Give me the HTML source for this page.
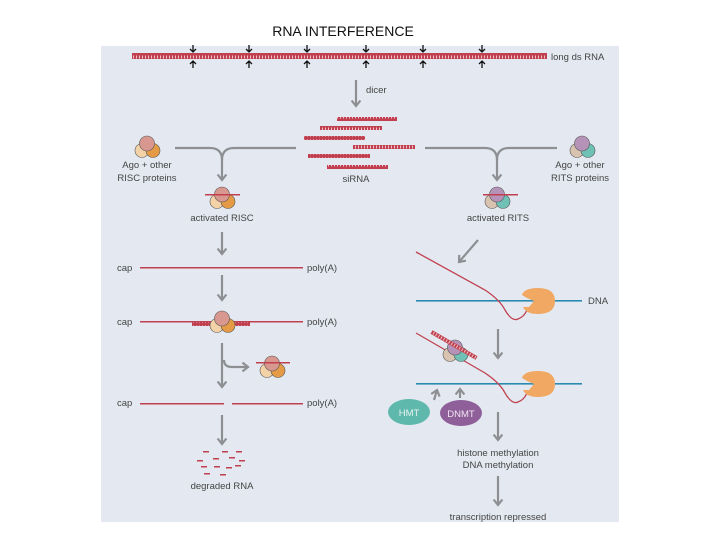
<!DOCTYPE html>
<html><head><meta charset="utf-8"><style>
html,body{margin:0;padding:0;background:#fff;width:720px;height:540px;overflow:hidden}
svg{display:block;font-family:"Liberation Sans",sans-serif}
</style></head><body>
<svg width="720" height="540" viewBox="0 0 720 540">
<defs>
<pattern id="ds" width="3" height="6" patternUnits="userSpaceOnUse"><rect width="3" height="6" fill="#c0404f"/><rect x="1" y="1.5" width="1" height="3" fill="#f0c4c8"/></pattern>
<marker id="ah" viewBox="0 0 10 10" refX="6" refY="5" markerWidth="5" markerHeight="5" orient="auto"><path d="M1,1 L6,5 L1,9" fill="none" stroke="#8d8f93" stroke-width="2"/></marker>
<g id="clL"><circle cx="-5" cy="3.5" r="7" fill="#f3d2a8" stroke="#555" stroke-width=".6"/><circle cx="6" cy="3.5" r="7" fill="#e59b45" stroke="#555" stroke-width=".6"/><circle cx="0" cy="-3.5" r="7.5" fill="#d9988f" stroke="#555" stroke-width=".6"/></g>
<g id="clR"><circle cx="-5" cy="3.5" r="7" fill="#d8c3b0" stroke="#555" stroke-width=".6"/><circle cx="6" cy="3.5" r="7" fill="#6fc0b5" stroke="#555" stroke-width=".6"/><circle cx="0" cy="-3.5" r="7.5" fill="#b593b8" stroke="#555" stroke-width=".6"/></g>
<g id="pol"><path d="M-16,-6 Q-14,-13 0,-13 Q17,-13 17,0 Q17,13 0,13 Q-12,13 -15,6 L-9,6 L-4,0 L-11,-3 Z" fill="#f0a862"/></g>
</defs>
<text x="343" y="36" font-size="14" text-anchor="middle" fill="#111">RNA INTERFERENCE</text>
<rect x="101" y="46" width="518" height="476" fill="#e4e9f1"/>
<g fill="#444" font-size="9.5">
<rect x="132" y="53" width="415" height="6" fill="url(#ds)"/>
<text x="551" y="60">long ds RNA</text>
<g stroke="#111" stroke-width="1.3" fill="none">
<path d="M193,45V52M190,49L193,52L196,49M249,45V52M246,49L249,52L252,49M307,45V52M304,49L307,52L310,49M366,45V52M363,49L366,52L369,49M423,45V52M420,49L423,52L426,49M482,45V52M479,49L482,52L485,49"/>
<path d="M193,68V61M190,64L193,61L196,64M249,68V61M246,64L249,61L252,64M307,68V61M304,64L307,61L310,64M366,68V61M363,64L366,61L369,64M423,68V61M420,64L423,61L426,64M482,68V61M479,64L482,61L485,64"/>
</g>
<g stroke="#8d8f93" stroke-width="2.2" fill="none">
<path d="M356,80V106" marker-end="url(#ah)"/>
<path d="M175,148H210Q222,148 222,160V180" marker-end="url(#ah)"/>
<path d="M296,148H234Q222,148 222,160"/>
<path d="M425,148H485Q497,148 497,160V180" marker-end="url(#ah)"/>
<path d="M557,148H509Q497,148 497,160"/>
<path d="M222,232V254" marker-end="url(#ah)"/>
<path d="M222,275V300" marker-end="url(#ah)"/>
<path d="M222,343V387" marker-end="url(#ah)"/>
<path d="M224,360Q224,367 232,367H248" marker-end="url(#ah)"/>
<path d="M222,415V444" marker-end="url(#ah)"/>
<path d="M478,240L459,262" marker-end="url(#ah)"/>
<path d="M498,329V358" marker-end="url(#ah)"/>
<path d="M434,400L437,390" marker-end="url(#ah)"/>
<path d="M460,398V389" marker-end="url(#ah)"/>
<path d="M498,412V440" marker-end="url(#ah)"/>
<path d="M498,476V505" marker-end="url(#ah)"/>
</g>
<text x="366" y="93">dicer</text>
<rect x="337" y="117" width="60" height="4" fill="url(#ds)"/>
<rect x="320" y="126" width="62" height="4" fill="url(#ds)"/>
<rect x="304" y="136" width="61" height="4" fill="url(#ds)"/>
<rect x="353" y="145" width="62" height="4" fill="url(#ds)"/>
<rect x="308" y="154" width="62" height="4" fill="url(#ds)"/>
<rect x="327" y="165" width="61" height="4" fill="url(#ds)"/>
<text x="356" y="182" text-anchor="middle">siRNA</text>
<use href="#clL" x="147" y="147"/>
<text x="147" y="168" text-anchor="middle">Ago + other</text>
<text x="147" y="181" text-anchor="middle">RISC proteins</text>
<use href="#clR" x="582" y="147"/>
<text x="580" y="168" text-anchor="middle">Ago + other</text>
<text x="580" y="181" text-anchor="middle">RITS proteins</text>
<use href="#clL" x="222" y="198"/>
<rect x="205" y="194" width="35" height="1.5" fill="#c0404f"/>
<text x="222" y="221" text-anchor="middle">activated RISC</text>
<use href="#clR" x="497" y="198"/>
<rect x="483" y="194" width="35" height="1.5" fill="#c0404f"/>
<text x="498" y="221" text-anchor="middle">activated RITS</text>
<text x="117" y="271">cap</text><rect x="140" y="267" width="163" height="1.5" fill="#c0404f"/><text x="307" y="271">poly(A)</text>
<text x="117" y="325">cap</text><rect x="140" y="321" width="163" height="1.5" fill="#c0404f"/><text x="307" y="325">poly(A)</text>
<rect x="192" y="322" width="58" height="4" fill="url(#ds)"/>
<use href="#clL" x="222" y="322"/>
<use href="#clL" x="272" y="367"/>
<rect x="256" y="362" width="34" height="1.5" fill="#c0404f"/>
<text x="117" y="406">cap</text><rect x="140" y="403" width="84" height="1.5" fill="#c0404f"/><rect x="232" y="403" width="71" height="1.5" fill="#c0404f"/><text x="307" y="406">poly(A)</text>
<g fill="#c0404f">
<rect x="203" y="451" width="6" height="1.5"/><rect x="222" y="451" width="6" height="1.5"/><rect x="236" y="451" width="6" height="1.5"/>
<rect x="197" y="460" width="6" height="1.5"/><rect x="213" y="458" width="6" height="1.5"/><rect x="229" y="457" width="6" height="1.5"/><rect x="239" y="460" width="6" height="1.5"/>
<rect x="201" y="466" width="6" height="1.5"/><rect x="214" y="466" width="6" height="1.5"/><rect x="226" y="467" width="6" height="1.5"/><rect x="235" y="465" width="6" height="1.5"/>
<rect x="204" y="473" width="6" height="1.5"/><rect x="220" y="474" width="6" height="1.5"/>
</g>
<text x="222" y="489" text-anchor="middle">degraded RNA</text>
<rect x="416" y="300" width="166" height="1.6" fill="#2a8ab0"/>
<text x="588" y="304">DNA</text>
<path d="M416,252 L485,290 Q500,300 505,310 Q512,322 518,319 Q524,317 527,310" fill="none" stroke="#c0404f" stroke-width="1.3"/>
<use href="#pol" x="538" y="301"/>
<rect x="416" y="383" width="166" height="1.6" fill="#2a8ab0"/>
<path d="M416,333 L485,373 Q500,383 505,393 Q512,405 518,402 Q524,400 527,393" fill="none" stroke="#c0404f" stroke-width="1.3"/>
<use href="#clR" x="455" y="351"/>
<rect x="428" y="343" width="52" height="4" fill="url(#ds)" transform="rotate(30 454 345)"/>
<use href="#pol" x="538" y="384"/>
<ellipse cx="409" cy="412" rx="21" ry="13" fill="#5fb8ac"/>
<text x="409" y="416" text-anchor="middle" fill="#e8f4f2">HMT</text>
<ellipse cx="461" cy="413" rx="21" ry="13" fill="#8f5f9a"/>
<text x="461" y="417" text-anchor="middle" fill="#efe6f1">DNMT</text>
<text x="498" y="456" text-anchor="middle">histone methylation</text>
<text x="498" y="468" text-anchor="middle">DNA methylation</text>
<text x="498" y="520" text-anchor="middle">transcription repressed</text>
</g>
</svg>
</body></html>
